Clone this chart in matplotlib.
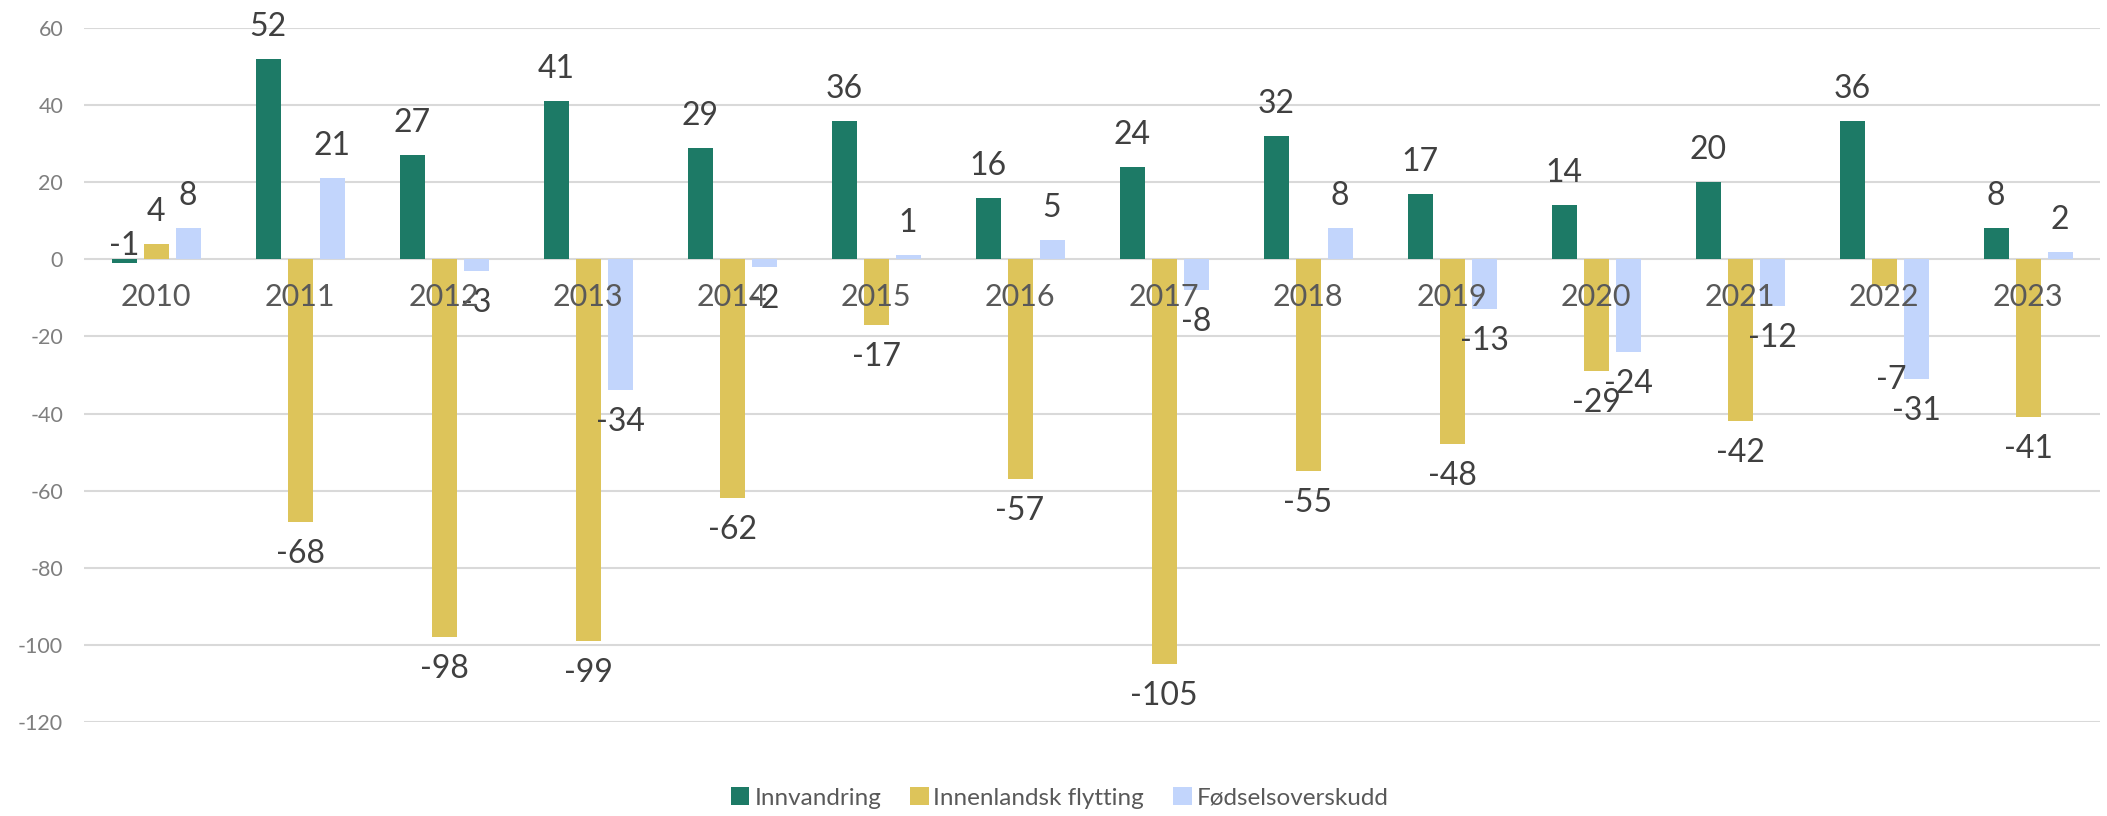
import matplotlib
matplotlib.use("Agg")
import matplotlib.pyplot as plt
import numpy as np

years = ["2010", "2011", "2012", "2013", "2014", "2015", "2016",
         "2017", "2018", "2019", "2020", "2021", "2022", "2023"]
innvandring = [-1, 52, 27, 41, 29, 36, 16, 24, 32, 17, 14, 20, 36, 8]
innenlandsk = [4, -68, -98, -99, -62, -17, -57, -105, -55, -48, -29, -42, -7, -41]
fodsel = [8, 21, -3, -34, -2, 1, 5, -8, 8, -13, -24, -12, -31, 2]
series_names = ["Innvandring", "Innenlandsk flytting", "Fødselsoverskudd"]
y_ticks = [60, 40, 20, 0, -20, -40, -60, -80, -100, -120]

colors = ["#1D7A66", "#DDC45A", "#C2D5FC"]
FONT = "Lato"

fig = plt.figure(figsize=(21.07, 8.16), dpi=100)
ax = fig.add_axes([84/2107, 1-722/816, (2100-84)/2107, (722-28)/816])

x = np.arange(len(years))
pitch = 32/144
width = 25/144
series = [innvandring, innenlandsk, fodsel]

for k, (vals, c, name) in enumerate(zip(series, colors, series_names)):
    xs = x + (k-1)*pitch
    ax.bar(xs, vals, width=width, color=c, label=name, zorder=3)
    for i, (xx, v) in enumerate(zip(xs, vals)):
        off = 32*0.72 if v >= 0 else -32*0.72
        dx = 0
        if k == 0 and i == 0:
            off = 17*0.72
        if k == 1 and i == 12:
            off = -94*0.72
            dx = 5
        ax.annotate(str(v), (xx, v), xytext=(dx, off), textcoords="offset points",
                    ha="center", va="center", fontsize=23, color="#404040",
                    family=FONT, zorder=5)

for i, yr in enumerate(years):
    ax.annotate(yr, (i, 0), xytext=(0, -38*0.72), textcoords="offset points",
                ha="center", va="center", fontsize=22, color="#595959",
                family=FONT, zorder=6)

ax.set_xlim(-0.5, len(years)-0.5)
ax.set_ylim(-120, 60)
ax.set_yticks(y_ticks)
ax.set_yticklabels([str(t) for t in y_ticks], family=FONT, fontsize=15.5,
                   color="#7F7F7F")
ax.tick_params(axis="y", length=0, pad=15)
ax.set_xticks([])
ax.grid(axis="y", color="#D9D9D9", linewidth=1.5, zorder=0)
for s in ax.spines.values():
    s.set_visible(False)

leg = fig.legend(loc="center", bbox_to_anchor=(0.503, 0.022), ncol=3,
                 frameon=False, handlelength=0.75, handleheight=0.75,
                 handletextpad=0.2, columnspacing=1.2,
                 prop={"family": FONT, "size": 17.5})
for t in leg.get_texts():
    t.set_color("#595959")

fig.savefig("out.png", dpi=100, facecolor="white")
